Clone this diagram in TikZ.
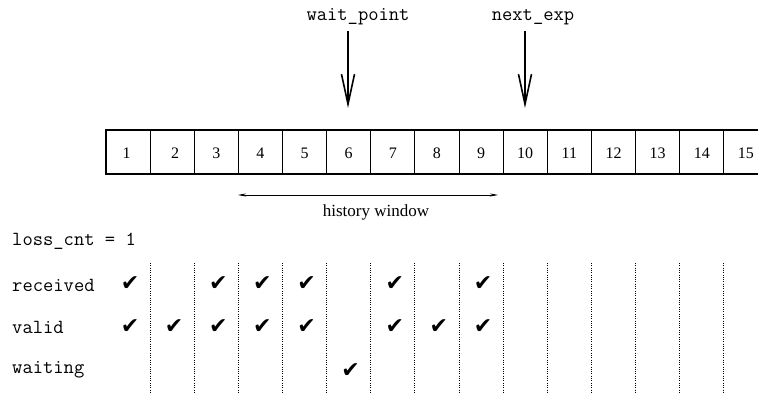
\documentclass[tikz,border=0pt]{standalone}
\usepackage{fontspec}
\setmainfont{Liberation Serif}
\newfontfamily\symfont{DejaVu Sans}
\usetikzlibrary{arrows.meta}
\tikzset{
  cellbox/.style={draw, line width=0.9pt, minimum width=44.14pt, minimum height=44pt, inner sep=0pt},
  numtext/.style={font=\fontsize{16}{18}\selectfont, inner sep=0pt},
  monotext/.style={font=\ttfamily\fontsize{20}{22}\selectfont, inner sep=0pt},
  seriftext/.style={font=\fontsize{17}{20}\selectfont, inner sep=0pt},
  chk/.style={font=\symfont\fontsize{22}{24}\selectfont, inner sep=0pt},
  pointer/.style={line width=1.6pt, -{Straight Barb[length=30pt,width=13pt,line width=1.6pt]}},
  winarrow/.style={line width=0.6pt, {Stealth[length=8pt,width=3pt]}-{Stealth[length=8pt,width=3pt]}},
  sepline/.style={line width=0.9pt, dash pattern=on 0.9pt off 1.4pt}
}
\begin{document}
\begin{tikzpicture}[x=1pt,y=-1pt]
\useasboundingbox (0,0) rectangle (758,393);
% cells
\foreach \i in {1,...,15}{
  \node[cellbox] (c\i) at ({105.9+44.14*(\i-0.5)},152) {};
}
\node[numtext] (n1) at (126.7,153) {1};
\node[numtext] (n2) at (175,153) {2};
\foreach \i in {3,...,15}{
  \node[numtext] (n\i) at ([yshift=-1pt]c\i.center) {\i};
}
\draw[line width=2pt] (105.9,130) rectangle (770,174);
% pointers
\node[monotext, anchor=base] (wp) at (358,21) {wait\_point};
\node[monotext, anchor=base] (ne) at (533,21) {next\_exp};
\coordinate (wpS) at (348,31);
\coordinate (wpE) at (348,108);
\coordinate (neS) at (525,31);
\coordinate (neE) at (525,108);
\draw[pointer] (wpS) -- (wpE);
\draw[pointer] (neS) -- (neE);
% history window
\coordinate (hwL) at (238,195);
\coordinate (hwR) at (498,195);
\draw[winarrow] (hwL) -- (hwR);
\node[seriftext] (hw) at (376,212) {history window};
% labels
\node[monotext, anchor=base west] (lc) at (12,245) {loss\_cnt = 1};
\node[monotext, anchor=base west] (rc) at (12,291) {received};
\node[monotext, anchor=base west] (va) at (12,333) {valid};
\node[monotext, anchor=base west] (wa) at (12,373) {waiting};
% dotted separators
\foreach \k in {1,...,14}{
  \draw[sepline] ({105.9+44.14*\k},263) -- ({105.9+44.14*\k},393);
}
% checkmarks
\foreach \i in {1,3,4,5,7,9}{
  \node[chk] (r\i) at ({107.9+44.14*(\i-0.5)},284) {✔};
}
\foreach \i in {1,2,3,4,5,7,8,9}{
  \node[chk] (v\i) at ({107.9+44.14*(\i-0.5)},327) {✔};
}
\node[chk] (w6) at ({107.9+44.14*5.5},371) {✔};
\end{tikzpicture}
\end{document}
